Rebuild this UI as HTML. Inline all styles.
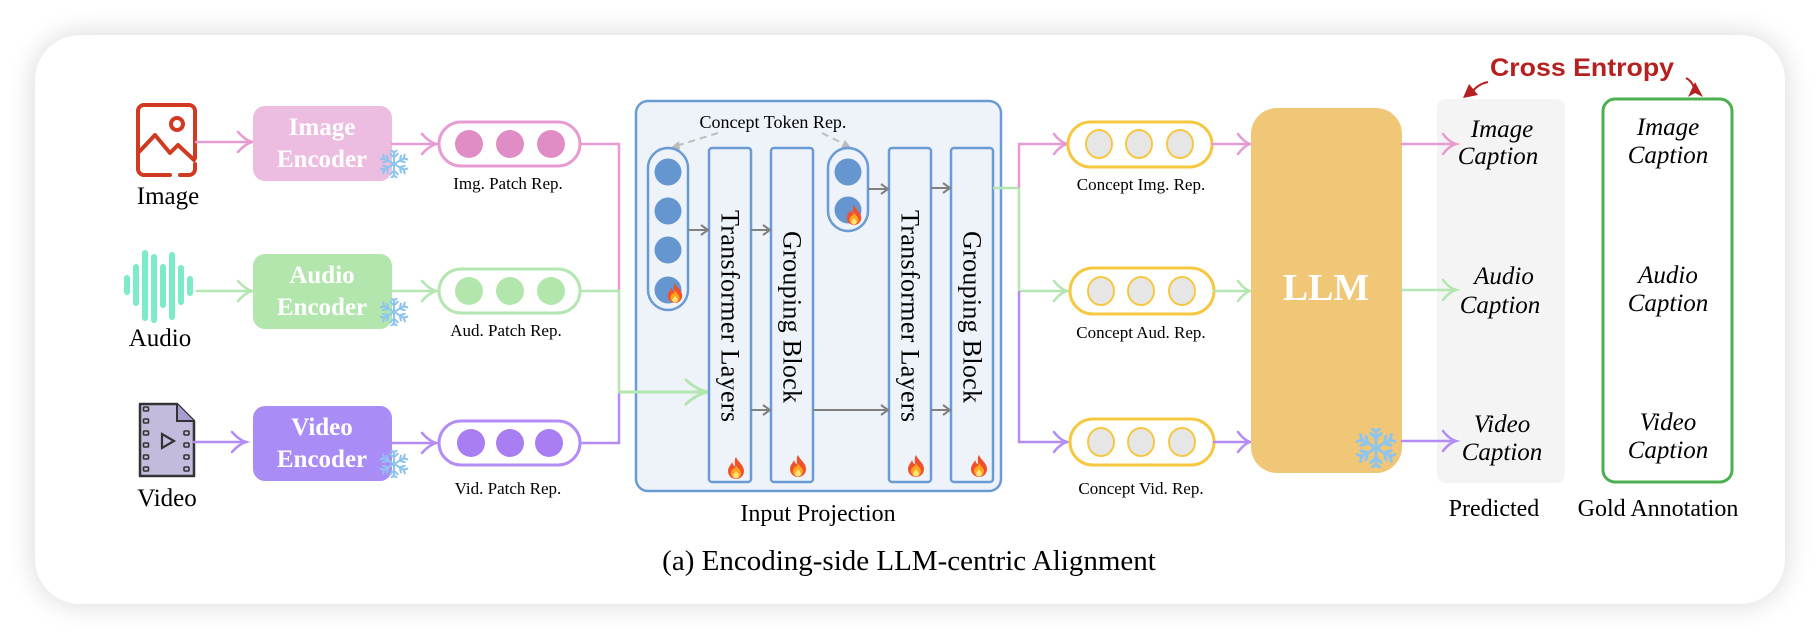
<!DOCTYPE html>
<html><head><meta charset="utf-8"><style>
html,body{margin:0;padding:0;background:#fff;}
body{width:1820px;height:638px;position:relative;overflow:hidden;}
#card{position:absolute;left:35px;top:35px;width:1750px;height:569px;border-radius:45px;background:#fff;box-shadow:0 0 28px rgba(0,0,0,0.16);}
svg{position:absolute;left:0;top:0;}
.t{font-family:"Liberation Serif",serif;}
</style></head><body>
<div id="card"></div>
<svg width="1820" height="638" viewBox="0 0 1820 638" xmlns="http://www.w3.org/2000/svg">
<defs>
<symbol id="fire" viewBox="0 0 20 24">
<path d="M10 1 C12 6 18 9 18 15 C18 20 14 23 10 23 C6 23 2 20 2 15 C2 11 5 9 6 6 C7 9 8 10 9 10 C9 7 8 4 10 1Z" fill="#f0502a"/>
<path d="M10 9 C11 12 15 14 15 17 C15 20 13 22 10 22 C7 22 5 20 5 17 C5 15 7 13 8 12 C9 14 9 12 10 9Z" fill="#ffa51f"/>
<path d="M10 15 C11 17 13 18 13 20 C13 21.5 11.5 22.5 10 22.5 C8.5 22.5 7 21.5 7 20 C7 18.5 9 17 10 15Z" fill="#ffe27a"/>
</symbol>
<g id="arm" stroke="#8ec5ee" stroke-width="2.2" stroke-linecap="round" fill="none">
<line x1="0" y1="0" x2="0" y2="-13"/><path d="M-4 -11 L0 -7 L4 -11"/><path d="M-3 -15 L0 -12 L3 -15"/>
</g>
<symbol id="snow" viewBox="-15 -15 30 30">
<use href="#arm"/><use href="#arm" transform="rotate(60)"/><use href="#arm" transform="rotate(120)"/>
<use href="#arm" transform="rotate(180)"/><use href="#arm" transform="rotate(240)"/><use href="#arm" transform="rotate(300)"/>
</symbol>
</defs>

<!-- image icon -->
<g fill="none" stroke="#cf3a20" stroke-width="4" stroke-linecap="round" stroke-linejoin="round">
<path d="M170 175 H144 a6 6 0 0 1 -6 -6 V111 a6 6 0 0 1 6 -6 H189 a6 6 0 0 1 6 6 V158"/>
<path d="M180 175 H189 a6 6 0 0 0 6 -6 V164"/>
<path d="M139 152 L155 135 L170 153 L178 145 L194 160"/>
<circle cx="177" cy="124" r="6"/>
</g>
<text class="t" x="168" y="204" font-size="25" text-anchor="middle">Image</text>

<!-- audio waveform -->
<g stroke="#7deac9" stroke-width="6" stroke-linecap="round">
<line x1="127" y1="278" x2="127" y2="292"/>
<line x1="136" y1="267" x2="136" y2="303"/>
<line x1="145" y1="253" x2="145" y2="318"/>
<line x1="154" y1="257" x2="154" y2="320"/>
<line x1="163" y1="267" x2="163" y2="305"/>
<line x1="172" y1="255" x2="172" y2="317"/>
<line x1="181" y1="268" x2="181" y2="302"/>
<line x1="190" y1="279" x2="190" y2="293"/>
</g>
<text class="t" x="160" y="346" font-size="25" text-anchor="middle">Audio</text>

<!-- video icon -->
<g>
<path d="M140 404 H177 L194 421 V476 H140 Z" fill="#c3bbdc" stroke="#333" stroke-width="2.5" stroke-linejoin="round"/>
<path d="M177 404 V421 H194" fill="#a99cd0" stroke="#333" stroke-width="2"/>
<g fill="none" stroke="#333" stroke-width="1.6">
<rect x="143.5" y="407" width="5" height="4" rx="1"/><rect x="143.5" y="419" width="5" height="4" rx="1"/><rect x="143.5" y="431" width="5" height="4" rx="1"/><rect x="143.5" y="443" width="5" height="4" rx="1"/><rect x="143.5" y="455" width="5" height="4" rx="1"/><rect x="143.5" y="467" width="5" height="4" rx="1"/>
<rect x="184" y="431" width="5" height="4" rx="1"/><rect x="184" y="443" width="5" height="4" rx="1"/><rect x="184" y="455" width="5" height="4" rx="1"/><rect x="184" y="467" width="5" height="4" rx="1"/>
<path d="M162 434 L174 441 L162 448 Z" stroke-width="2.2"/>
</g>
</g>
<text class="t" x="167" y="506" font-size="25" text-anchor="middle">Video</text>

<!-- input arrows -->
<g fill="none" stroke-width="2.5" stroke-linecap="round">
<g stroke="#e79bd3"><line x1="196" y1="142" x2="252" y2="142"/><path d="M238 132 Q245 140 252 142 Q245 144 238 152"/></g>
<g stroke="#b3e6b0"><line x1="197" y1="291" x2="252" y2="291"/><path d="M238 281 Q245 289 252 291 Q245 293 238 301"/></g>
<g stroke="#b38cf5"><line x1="194" y1="442" x2="246" y2="442"/><path d="M232 432 Q239 440 246 442 Q239 444 232 452"/></g>
</g>

<!-- encoders -->
<rect x="253" y="106" width="139" height="75" rx="12" fill="#ecbde0"/>
<rect x="253" y="254" width="139" height="75" rx="12" fill="#b3e6ad"/>
<rect x="253" y="406" width="139" height="75" rx="12" fill="#a98cf5"/>
<g class="t" font-size="25" font-weight="bold" fill="#fff" text-anchor="middle">
<text x="322" y="135">Image</text><text x="322" y="167">Encoder</text>
<text x="322" y="283">Audio</text><text x="322" y="315">Encoder</text>
<text x="322" y="435">Video</text><text x="322" y="467">Encoder</text>
</g>
<use href="#snow" x="380" y="150" width="28" height="28"/>
<use href="#snow" x="380" y="298" width="28" height="28"/>
<use href="#snow" x="380" y="450" width="28" height="28"/>

<!-- encoder->pill arrows -->
<g fill="none" stroke-width="2.5" stroke-linecap="round">
<g stroke="#e79bd3"><line x1="392" y1="144" x2="436" y2="144"/><path d="M422 134 Q429 142 436 144 Q429 146 422 154"/></g>
<g stroke="#b3e6b0"><line x1="392" y1="291" x2="436" y2="291"/><path d="M422 281 Q429 289 436 291 Q429 293 422 301"/></g>
<g stroke="#b38cf5"><line x1="392" y1="443" x2="436" y2="443"/><path d="M422 433 Q429 441 436 443 Q429 445 422 453"/></g>
</g>

<!-- patch pills -->
<rect x="439" y="122" width="141" height="44" rx="22" fill="#fff" stroke="#e79bd3" stroke-width="3"/>
<circle cx="469" cy="144" r="14" fill="#e08cc5"/><circle cx="510" cy="144" r="14" fill="#e08cc5"/><circle cx="551" cy="144" r="14" fill="#e08cc5"/>
<rect x="439" y="269" width="141" height="44" rx="22" fill="#fff" stroke="#b3e6b0" stroke-width="3"/>
<circle cx="469" cy="291" r="14" fill="#b3e6ad"/><circle cx="510" cy="291" r="14" fill="#b3e6ad"/><circle cx="551" cy="291" r="14" fill="#b3e6ad"/>
<rect x="439" y="421" width="141" height="44" rx="22" fill="#fff" stroke="#b38cf5" stroke-width="3"/>
<circle cx="471" cy="443" r="14" fill="#a87ef2"/><circle cx="510" cy="443" r="14" fill="#a87ef2"/><circle cx="549" cy="443" r="14" fill="#a87ef2"/>
<g class="t" font-size="17" text-anchor="middle">
<text x="508" y="189">Img. Patch Rep.</text>
<text x="506" y="336">Aud. Patch Rep.</text>
<text x="508" y="494">Vid. Patch Rep.</text>
</g>

<!-- merge connectors -->
<g fill="none" stroke-width="2.5">
<path d="M580 144 H619 V291" stroke="#e79bd3"/>
<path d="M580 291 H619 V392" stroke="#b3e6b0"/>
<path d="M580 443 H619 V392" stroke="#b38cf5"/>
</g>

<!-- Input projection -->
<rect x="636" y="101" width="365" height="390" rx="12" fill="#eef3f9" stroke="#6a9bd4" stroke-width="2.5"/>
<g fill="none" stroke-width="3" stroke="#b3e6b0" stroke-linecap="round"><line x1="619" y1="392" x2="708" y2="392"/><path d="M686 380 Q697 390 708 392 Q697 394 686 404"/></g>
<text class="t" x="773" y="128" font-size="18" text-anchor="middle">Concept Token Rep.</text>
<g stroke="#bbb" stroke-width="2" stroke-dasharray="7 5" fill="none"><path d="M718 133 L676 146"/><path d="M822 133 L846 145"/></g>
<path d="M669 149 L679 141 L680 150 Z" fill="#bbb"/><path d="M852 149 L841 148 L845 140 Z" fill="#bbb"/>

<rect x="648" y="148" width="40" height="162" rx="20" fill="#eef3f9" stroke="#6a9bd4" stroke-width="2.5"/>
<circle cx="668" cy="172" r="13.5" fill="#6596d0"/><circle cx="668" cy="211" r="13.5" fill="#6596d0"/><circle cx="668" cy="250" r="13.5" fill="#6596d0"/><circle cx="668" cy="290" r="13.5" fill="#6596d0"/>
<use href="#fire" x="666" y="282" width="18" height="22"/>
<rect x="828" y="148" width="40" height="83" rx="20" fill="#eef3f9" stroke="#6a9bd4" stroke-width="2.5"/>
<circle cx="848" cy="172" r="13.5" fill="#6596d0"/><circle cx="848" cy="210" r="13.5" fill="#6596d0"/>
<use href="#fire" x="845" y="204" width="18" height="22"/>

<g fill="#eef3f9" stroke="#6a9bd4" stroke-width="2.5">
<rect x="709" y="148" width="42" height="334" rx="3"/>
<rect x="771" y="148" width="42" height="334" rx="3"/>
<rect x="889" y="148" width="42" height="334" rx="3"/>
<rect x="951" y="148" width="42" height="334" rx="3"/>
</g>
<g class="t" font-size="26">
<text transform="translate(730,316) rotate(90)" text-anchor="middle" dominant-baseline="central" textLength="212">Transformer Layers</text>
<text transform="translate(792,317) rotate(90)" text-anchor="middle" dominant-baseline="central" textLength="172">Grouping Block</text>
<text transform="translate(910,316) rotate(90)" text-anchor="middle" dominant-baseline="central" textLength="212">Transformer Layers</text>
<text transform="translate(972,317) rotate(90)" text-anchor="middle" dominant-baseline="central" textLength="172">Grouping Block</text>
</g>
<use href="#fire" x="726" y="456" width="20" height="24"/>
<use href="#fire" x="788" y="454" width="20" height="24"/>
<use href="#fire" x="906" y="454" width="20" height="24"/>
<use href="#fire" x="969" y="454" width="20" height="24"/>

<g fill="none" stroke="#808080" stroke-width="2">
<line x1="688" y1="230" x2="708" y2="230"/><path d="M701 225 L708 230 L701 235"/>
<line x1="751" y1="230" x2="770" y2="230"/><path d="M763 225 L770 230 L763 235"/>
<line x1="868" y1="189" x2="888" y2="189"/><path d="M881 184 L888 189 L881 194"/>
<line x1="931" y1="188" x2="950" y2="188"/><path d="M943 183 L950 188 L943 193"/>
<line x1="751" y1="410" x2="770" y2="410"/><path d="M763 405 L770 410 L763 415"/>
<line x1="813" y1="410" x2="888" y2="410"/><path d="M881 405 L888 410 L881 415"/>
<line x1="931" y1="410" x2="950" y2="410"/><path d="M943 405 L950 410 L943 415"/>
</g>
<text class="t" x="818" y="521" font-size="24" text-anchor="middle">Input Projection</text>

<!-- Output connectors -->
<g fill="none" stroke-width="2.5">
<path d="M993 188 H1019 V291" stroke="#b3e6b0"/>
<path d="M1019 188 V144 H1066" stroke="#e79bd3"/>
<path d="M1019 291 H1066" stroke="#b3e6b0"/>
<path d="M1019 291 V442 H1066" stroke="#b38cf5"/>
</g>
<g fill="none" stroke-width="2.5" stroke-linecap="round">
<path d="M1054 134 Q1060 142 1067 144 Q1060 146 1054 154" stroke="#e79bd3"/>
<path d="M1054 281 Q1060 289 1067 291 Q1060 293 1054 301" stroke="#b3e6b0"/>
<path d="M1054 432 Q1060 440 1067 442 Q1060 444 1054 452" stroke="#b38cf5"/>
</g>

<g fill="#fff" stroke="#f6c842" stroke-width="3">
<rect x="1068" y="122" width="144" height="45" rx="22.5"/>
<rect x="1070" y="268" width="144" height="46" rx="23"/>
<rect x="1070" y="419" width="144" height="46" rx="23"/>
</g>
<g fill="#e6e6e6" stroke="#f6c842" stroke-width="2">
<ellipse cx="1099" cy="144" rx="13" ry="14"/><ellipse cx="1139" cy="144" rx="13" ry="14"/><ellipse cx="1180" cy="144" rx="13" ry="14"/>
<ellipse cx="1101" cy="291" rx="13" ry="14"/><ellipse cx="1141" cy="291" rx="13" ry="14"/><ellipse cx="1182" cy="291" rx="13" ry="14"/>
<ellipse cx="1101" cy="442" rx="13" ry="14"/><ellipse cx="1141" cy="442" rx="13" ry="14"/><ellipse cx="1182" cy="442" rx="13" ry="14"/>
</g>
<g class="t" font-size="17" text-anchor="middle">
<text x="1141" y="190">Concept Img. Rep.</text>
<text x="1141" y="338">Concept Aud. Rep.</text>
<text x="1141" y="494">Concept Vid. Rep.</text>
</g>
<g fill="none" stroke-width="2.5" stroke-linecap="round">
<g stroke="#e79bd3"><line x1="1212" y1="144" x2="1250" y2="144"/><path d="M1238 134 Q1244 142 1250 144 Q1244 146 1238 154"/></g>
<g stroke="#b3e6b0"><line x1="1214" y1="291" x2="1250" y2="291"/><path d="M1238 281 Q1244 289 1250 291 Q1244 293 1238 301"/></g>
<g stroke="#b38cf5"><line x1="1214" y1="442" x2="1250" y2="442"/><path d="M1238 432 Q1244 440 1250 442 Q1244 444 1238 452"/></g>
</g>

<!-- LLM -->
<rect x="1251" y="108" width="151" height="365" rx="26" fill="#f0c677"/>
<text class="t" x="1326" y="300" font-size="38" font-weight="bold" fill="#fff" text-anchor="middle">LLM</text>
<use href="#snow" x="1356" y="428" width="40" height="40"/>

<!-- Predicted panel -->
<rect x="1437" y="99" width="128" height="384" rx="8" fill="#f4f4f4"/>
<g fill="none" stroke-width="2.5" stroke-linecap="round">
<g stroke="#e79bd3"><line x1="1402" y1="144" x2="1455" y2="144"/><path d="M1443 134 Q1449 142 1456 144 Q1449 146 1443 154"/></g>
<g stroke="#b3e6b0"><line x1="1402" y1="290" x2="1455" y2="290"/><path d="M1443 280 Q1449 288 1456 290 Q1449 292 1443 300"/></g>
<g stroke="#b38cf5"><line x1="1402" y1="441" x2="1455" y2="441"/><path d="M1443 431 Q1449 439 1456 441 Q1449 443 1443 451"/></g>
</g>
<g class="t" font-size="25" font-style="italic" text-anchor="middle">
<text x="1502" y="137">Image</text><text x="1498" y="164">Caption</text>
<text x="1504" y="284">Audio</text><text x="1500" y="313">Caption</text>
<text x="1502" y="432">Video</text><text x="1502" y="460">Caption</text>
</g>

<!-- Gold annotation -->
<rect x="1603" y="99" width="129" height="383" rx="12" fill="#fff" stroke="#4caf50" stroke-width="3"/>
<g class="t" font-size="25" font-style="italic" text-anchor="middle">
<text x="1668" y="135">Image</text><text x="1668" y="163">Caption</text>
<text x="1668" y="283">Audio</text><text x="1668" y="311">Caption</text>
<text x="1668" y="430">Video</text><text x="1668" y="458">Caption</text>
</g>
<g class="t" font-size="24" text-anchor="middle">
<text x="1494" y="516">Predicted</text>
<text x="1658" y="516">Gold Annotation</text>
</g>

<!-- Cross Entropy -->
<text x="1582" y="76" font-family="Liberation Sans,sans-serif" font-size="25" font-weight="bold" fill="#b52121" text-anchor="middle" textLength="184" lengthAdjust="spacingAndGlyphs">Cross Entropy</text>
<path d="M1488 82 Q1478 84 1472 92" fill="none" stroke="#b52121" stroke-width="2"/>
<path d="M1463 98 L1469 84 L1478 95 Z" fill="#b52121"/>
<path d="M1686 78 Q1692 81 1694 88" fill="none" stroke="#b52121" stroke-width="2"/>
<path d="M1688 97 L1695 82 L1703 97 L1695 93 Z" fill="#b52121"/>

<text class="t" x="909" y="570" font-size="29" text-anchor="middle">(a) Encoding-side LLM-centric Alignment</text>
</svg>
</body></html>
